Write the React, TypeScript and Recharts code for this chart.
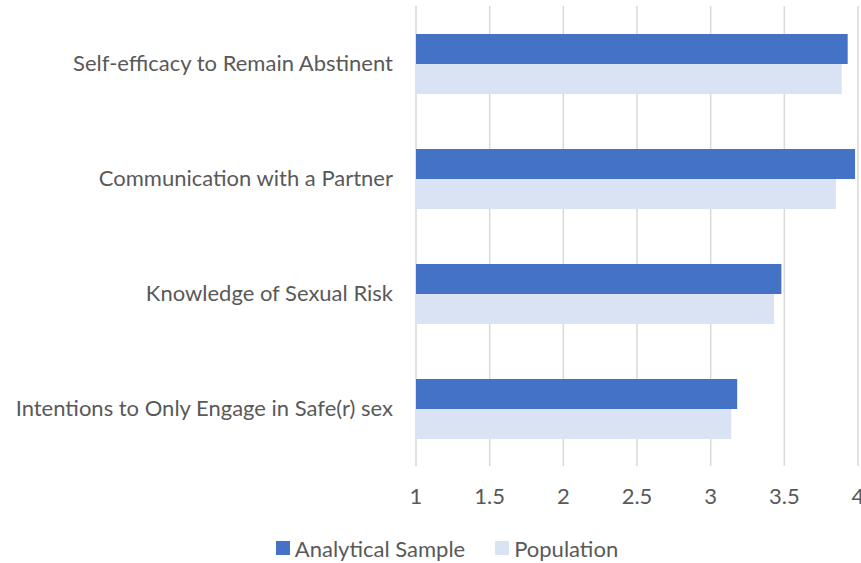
import { BarChart, Bar, XAxis, YAxis, CartesianGrid, Legend } from "recharts";

const categories = [
  "Self-efficacy to Remain Abstinent",
  "Communication with a Partner",
  "Knowledge of Sexual Risk",
  "Intentions to Only Engage in Safe(r) sex",
];
const analyticalSample = [3.93, 3.98, 3.48, 3.18];
const population = [3.89, 3.85, 3.43, 3.14];
const xTicks = [1, 1.5, 2, 2.5, 3, 3.5, 4];

const data = categories.map((name, i) => ({
  name,
  analytical: analyticalSample[i],
  population: population[i],
}));

const FONT = "Lato, 'Open Sans', sans-serif";
const TEXT = "#595959";
const SIZE = 22;

function LegendRow({ payload }: { payload?: any[] }) {
  return (
    <div style={{ display: "flex", justifyContent: "center", alignItems: "center", height: 30, paddingLeft: 36, fontFamily: FONT, fontSize: SIZE, color: TEXT }}>
      {(payload || []).map((p, i) => (
        <div key={i} style={{ display: "flex", alignItems: "center", marginRight: i === 0 ? 30 : 0 }}>
          <span style={{ display: "inline-block", width: 14, height: 14, background: p.color, marginRight: 5 }} />
          <span>{p.value}</span>
        </div>
      ))}
    </div>
  );
}

export default function App() {
  return (
    <div style={{ position: "absolute", left: 0, top: 0, background: "#fff" }}>
      <BarChart
        layout="vertical"
        width={861}
        height={563}
        data={data}
        margin={{ top: 6, right: 3, left: 0, bottom: 0 }}
        barGap={0}
      >
        <CartesianGrid horizontal={false} stroke="#D9D9D9" strokeWidth={1.5} />
        <XAxis
          type="number"
          domain={[1, 4]}
          ticks={xTicks}
          allowDataOverflow
          axisLine={false}
          tickLine={false}
          tickSize={0}
          tickMargin={22}
          height={67}
          interval={0}
          tick={{ fontSize: SIZE, fill: TEXT, fontFamily: FONT }}
        />
        <YAxis
          type="category"
          dataKey="name"
          width={416}
          axisLine={false}
          tickLine={false}
          tickSize={0}
          tickMargin={23}
          tick={{ fontSize: SIZE, fill: TEXT, fontFamily: FONT }}
        />
        <Legend verticalAlign="bottom" content={<LegendRow />} />
        <Bar dataKey="analytical" name="Analytical Sample" fill="#4472C4" barSize={30} isAnimationActive={false} />
        <Bar dataKey="population" name="Population" fill="#DAE3F3" barSize={30} isAnimationActive={false} />
      </BarChart>
    </div>
  );
}
